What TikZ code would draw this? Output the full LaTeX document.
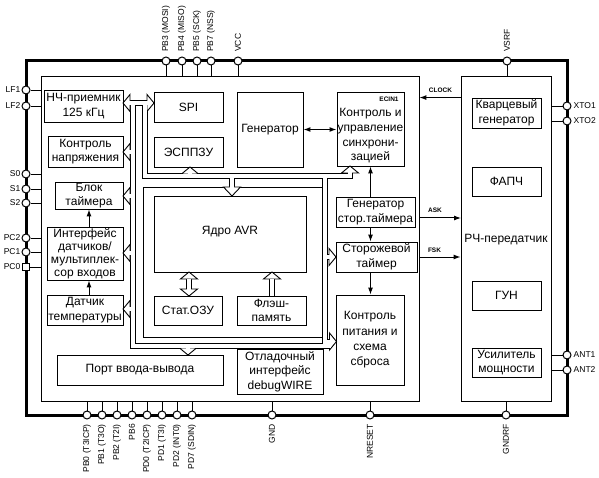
\documentclass[tikz,border=0pt]{standalone}
\usepackage{fontspec}
\setmainfont{Liberation Sans}
\usetikzlibrary{arrows.meta}
\newcommand{\mkbox}[7][]{\node[blk,#1,minimum width={(#5-#3)*1pt},minimum height={(#6-#4)*1pt}] (#2) at ({(#3+#5)/2},{(#4+#6)/2}) {#7};}
\newcommand\hdL[3][7]{\draw[hd] (#2,#3) -- ++(#1,-8.5) -- ++(0,17) -- cycle;}
\newcommand\hdR[3][7]{\draw[hd] (#2,#3) -- ++(-#1,-8.5) -- ++(0,17) -- cycle;}
\newcommand\hdU[3][7]{\draw[hd] (#2,#3) -- ++(-8.5,#1) -- ++(17,0) -- cycle;}
\newcommand\hdD[3][7]{\draw[hd] (#2,#3) -- ++(-8.5,-#1) -- ++(17,0) -- cycle;}
\newcommand\busnet{
 (129,103) -- (149,103)
 (132.5,103) -- (132.5,345.5) -- (330.5,345.5)
 (132.5,152) -- (128.5,152)
 (132.5,196) -- (128.5,196)
 (132.5,253) -- (128.5,253)
 (132.5,309) -- (128.5,309)
 (188,345.5) -- (188,349.5)
 (145,103) -- (145,176) -- (350,176) -- (350,171.5)
 (190,176) -- (190,172.5)
 (232,176) -- (232,188.5)
 (324.5,176) -- (324.5,345.5)
 (324.5,257) -- (330,257)
 (324.5,342) -- (330.5,342)
 (189,278.5) -- (189,289.5)
 (272,278.5) -- (272,296)
}
\begin{document}
\begin{tikzpicture}[x=1pt,y=-1pt,
  blk/.style={draw,line width=0.9pt,align=center,inner sep=0pt,
    font=\fontsize{12}{14.6}\selectfont},
  txt/.style={align=center,inner sep=0pt,font=\fontsize{12}{14.6}\selectfont},
  pinc/.style={circle,draw,fill=white,line width=1pt,minimum size=8pt,inner sep=0pt},
  pinsq/.style={rectangle,draw,fill=white,line width=1pt,minimum size=7pt,inner sep=0pt},
  pinline/.style={line width=0.9pt},
  plab/.style={inner sep=0pt,font=\fontsize{8.5}{9}\selectfont},
  sig/.style={inner sep=0pt,font=\fontsize{6.5}{7}\selectfont\bfseries},
  sarr/.style={line width=1pt,-{Latex[length=7pt,width=5pt]}},
  sarrb/.style={line width=1.2pt,{Latex[length=7pt,width=5pt]}-{Latex[length=7pt,width=5pt]}},
  busk/.style={line width=6pt,line join=miter,line cap=butt,black},
  busw/.style={line width=4pt,line join=miter,line cap=butt,white},
  hd/.style={draw,fill=white,line width=0.9pt,line join=miter},
]
\useasboundingbox (0,0) rectangle (599,478);
\fill[white] (0,0) rectangle (599,478);

% package frame
\node[draw,line width=3pt,minimum width=541pt,minimum height=354pt,inner sep=0pt] (pkg) at (296.5,238) {};
\mkbox{mcu}{41}{76}{419}{401}{}
\mkbox{rf}{461}{76}{551}{401}{}

% left pins
\foreach \n/\y/\t in {lf1/90/LF1,lf2/106/LF2,s0/174/S0,s1/189/S1,s2/203/S2,pc2/238/PC2,pc1/252/PC1}{
  \node[pinc] (\n) at (26,\y) {};
  \draw[pinline] (\n.east) -- (\n.east -| mcu.west);
  \node[plab,anchor=east] at (20.5,\y) {\t};
}
\node[pinsq] (pc0) at (26,267) {};
\draw[pinline] (pc0.east) -- (pc0.east -| mcu.west);
\node[plab,anchor=east] at (20.5,267) {PC0};

% top pins
\foreach \n/\x/\t in {pb3/166/PB3 (MOSI),pb4/182/PB4 (MISO),pb5/197/PB5 (SCK),pb7/211/PB7 (NSS),vcc/238/VCC}{
  \node[pinc] (\n) at (\x,61) {};
  \draw[pinline] (\n.south) -- (\n.south |- mcu.north);
  \node[plab,rotate=90,anchor=west] at (\x,52) {\t};
}
\node[pinc] (vsrf) at (507,61) {};
\draw[pinline] (vsrf.south) -- (vsrf.south |- rf.north);
\node[plab,rotate=90,anchor=west] at (507,52) {VSRF};

% bottom pins
\foreach \n/\x/\t in {pb0/87/PB0 (T3ICP),pb1/102/PB1 (T3O),pb2/117/PB2 (T2I),pb6/132/PB6,pd0/147/PD0 (T2ICP),pd1/162/PD1 (T3I),pd2/177/PD2 (INT0),pd7/192/PD7 (SDIN),gnd/272/GND,nrst/370/NRESET}{
  \node[pinc] (\n) at (\x,415) {};
  \draw[pinline] (\n.north) -- (\n.north |- mcu.south);
  \node[plab,rotate=90,anchor=east] at (\x,424) {\t};
}
\node[pinc] (gndrf) at (506,415) {};
\draw[pinline] (gndrf.north) -- (gndrf.north |- rf.south);
\node[plab,rotate=90,anchor=east] at (506,424) {GNDRF};

% right pins
\foreach \n/\y/\t in {xto1/106/XTO1,xto2/121/XTO2,ant1/355/ANT1,ant2/370/ANT2}{
  \node[pinc] (\n) at (567,\y) {};
  \draw[pinline] (\n.west) -- (\n.west -| rf.east);
  \node[plab,anchor=west] at (573.5,\y) {\t};
}

% core frame
\mkbox{core}{143}{187}{322}{337}{}

% hollow buses
\draw[busk] \busnet;
\hdL{123}{103}
\hdR{154}{103}
\hdL{123}{152}
\hdL{123}{196}
\hdL{123}{253}
\hdL{123}{309}
\hdD{188}{355}
\hdU{190}{167}
\hdU{350}{166}
\hdD[9]{232}{196}
\hdR{336}{257}
\hdR{336.5}{341.5}
\hdU{189}{272}
\hdD{189}{296}
\hdU{272}{272}
\draw[busw] \busnet;

% blocks
\mkbox{lfr}{44}{90}{123}{122}{НЧ-приемник\\125 кГц}
\mkbox{vmon}{48}{136}{123}{167}{Контроль\\напряжения}
\mkbox{tmr}{55}{182}{123}{209}{Блок\\таймера}
\mkbox[font=\fontsize{12}{13}\selectfont]{intf}{47}{227}{123}{280}{Интерфейс\\датчиков/\\мультиплек-\\сор входов}
\mkbox{temp}{47}{295}{123}{325}{Датчик\\температуры}
\mkbox{spi}{154}{92}{223}{122}{SPI}
\mkbox{eep}{154}{137}{223}{167}{ЭСППЗУ}
\mkbox{gen}{237}{92}{303}{167}{Генератор}
\mkbox{sync}{337}{92}{404}{166}{}
\node[txt,font=\fontsize{12}{14.7}\selectfont] (synct) at (370.5,136) {Контроль и\\управление\\синхрони-\\зацией};
\node[sig] (ecin) at (389,99) {ECIN1};
\mkbox{gst}{336}{197}{415}{227}{Генератор\\стор.таймера}
\mkbox{wdt}{336}{242}{417}{272}{Сторожевой\\таймер}
\mkbox[font=\fontsize{12}{15.3}\selectfont]{pwr}{336}{295}{404}{385}{Контроль\\питания и\\схема\\сброса}
\mkbox{avr}{154}{196}{306}{272}{}
\node[txt] (avrt) at (230,232) {Ядро AVR};
\mkbox{sram}{154}{296}{222}{325}{Стат.ОЗУ}
\mkbox{flash}{237}{296}{306}{325}{Флэш-\\память}
\mkbox{io}{57}{355}{223}{385}{Порт ввода-вывода}
\mkbox{dbg}{237}{349}{323}{394}{Отладочный\\интерфейс\\debugWIRE}
\node[txt] (rft) at (506,240) {РЧ-передатчик};
\mkbox{xtal}{472}{98}{541}{128}{Кварцевый\\генератор}
\mkbox{pll}{472}{167}{541}{196}{ФАПЧ}
\mkbox{vco}{472}{281}{541}{310}{ГУН}
\mkbox{pa}{472}{348}{541}{377}{Усилитель\\мощности}

% thin signal arrows
\draw[sarr] (tmr.south |- intf.north) -- (tmr.south);
\draw[sarr] (tmr.south |- temp.north) -- (tmr.south |- intf.south);
\draw[sarrb] (gen.east) -- (gen.east -| sync.west);
\draw[sarr] (sync.south |- gst.north) -- (sync.south);
\draw[sarr] (sync.south |- gst.south) -- (sync.south |- wdt.north);
\draw[sarr] (sync.south |- wdt.south) -- (sync.south |- pwr.north);
\draw[sarr] (xtal.north -| rf.west) -- (xtal.north -| mcu.east);
\coordinate (ask) at (461,218);
\draw[sarr] (ask -| mcu.east) -- (ask);
\draw[sarr] (wdt.east -| mcu.east) -- (wdt.east -| rf.west);
\node[sig] (clk) at (440.5,90) {CLOCK};
\node[sig] (askl) at (435,210) {ASK};
\node[sig] (fskl) at (434.5,250) {FSK};
\end{tikzpicture}
\end{document}
